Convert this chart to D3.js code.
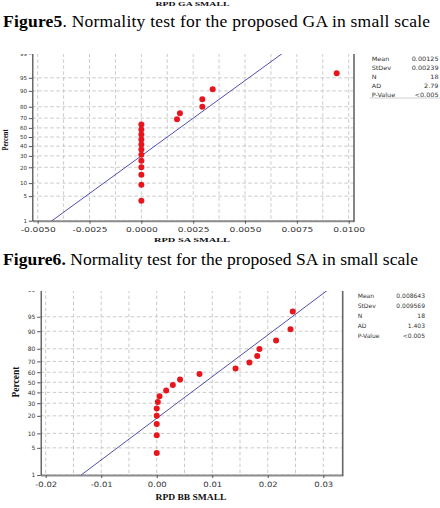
<!DOCTYPE html>
<html><head><meta charset="utf-8">
<script src="https://cdn.jsdelivr.net/npm/d3@7"></script>
<style>html,body{margin:0;padding:0;background:#fff}svg{display:block}</style>
</head><body>
<svg id="c" width="440" height="508"></svg>
<script>
// ---------- data ----------
const percentTicks = [1, 5, 10, 20, 30, 40, 50, 60, 70, 80, 90, 95, 99];
const plotPercents = [3.8, 9.2, 14.7, 20.1, 25.5, 31.0, 36.4, 41.8, 47.3, 52.7, 58.2, 63.6, 69.0, 74.5, 79.9, 85.3, 90.8, 96.2];

const saValues = [0, 0, 0, 0, 0, 0, 0, 0, 0, 0, 0, 0, 0.00172, 0.00186, 0.00294, 0.00294, 0.00344, 0.00942];
const bbValues = [0, 0, 0, 0, 0, 0.0002, 0.0005, 0.0017, 0.0029, 0.0042, 0.0077, 0.0142, 0.0167, 0.0181, 0.0185, 0.0215, 0.0241, 0.0245];

const saXTicks = [-0.005, -0.0025, 0, 0.0025, 0.005, 0.0075, 0.01];
const saXTickLabels = ["-0.0050", "-0.0025", "0.0000", "0.0025", "0.0050", "0.0075", "0.0100"];
const saGridX = [-0.005, -0.00375, -0.0025, -0.00125, 0, 0.00125, 0.0025, 0.00375, 0.005, 0.00625, 0.0075, 0.00875, 0.01];

const bbXTicks = [-0.02, -0.01, 0, 0.01, 0.02, 0.03];
const bbXTickLabels = ["-0.02", "-0.01", "0.00", "0.01", "0.02", "0.03"];
const bbGridX = [-0.02, -0.015, -0.01, -0.005, 0, 0.005, 0.01, 0.015, 0.02, 0.025, 0.03];

const statLabels = ["Mean", "StDev", "N", "AD", "P-Value"];
const saStats = ["0.00125", "0.00239", "18", "2.79", "<0.005"];
const bbStats = ["0.008643", "0.009569", "18", "1.403", "<0.005"];
const saMean = 0.00125, saSd = 0.00239;
const bbMean = 0.008643, bbSd = 0.009569;

const captions = [
  ["Figure5", ". Normality test for the proposed GA in small scale"],
  ["Figure6.", " Normality test for the proposed SA in small scale"]
];

// ---------- helpers ----------
function probit(p){
  const a=[-3.969683028665376e+01,2.209460984245205e+02,-2.759285104469687e+02,1.383577518672690e+02,-3.066479806614716e+01,2.506628277459239e+00];
  const b=[-5.447609879822406e+01,1.615858368580409e+02,-1.556989798598866e+02,6.680131188771972e+01,-1.328068155288572e+01];
  const c=[-7.784894002430293e-03,-3.223964580411365e-01,-2.400758277161838e+00,-2.549732539343734e+00,4.374664141464968e+00,2.938163982698783e+00];
  const d=[7.784695709041462e-03,3.224671290700398e-01,2.445134137142996e+00,3.754408661907416e+00];
  const pl=0.02425, ph=1-pl; let q,r;
  if(p<pl){q=Math.sqrt(-2*Math.log(p));return (((((c[0]*q+c[1])*q+c[2])*q+c[3])*q+c[4])*q+c[5])/((((d[0]*q+d[1])*q+d[2])*q+d[3])*q+1);}
  if(p<=ph){q=p-0.5;r=q*q;return (((((a[0]*r+a[1])*r+a[2])*r+a[3])*r+a[4])*r+a[5])*q/(((((b[0]*r+b[1])*r+b[2])*r+b[3])*r+b[4])*r+1);}
  q=Math.sqrt(-2*Math.log(1-p));return -(((((c[0]*q+c[1])*q+c[2])*q+c[3])*q+c[4])*q+c[5])/((((d[0]*q+d[1])*q+d[2])*q+d[3])*q+1);
}

const svg = d3.select("#c");
const SANS = "'DejaVu Sans', Verdana, sans-serif";
const SERIF = "'Liberation Serif', 'Times New Roman', serif";

function txt(g, x, y, s, o){
  const t = g.append("text")
    .attr("transform", `translate(${x},${y}) scale(${o.sx||1},1)` + (o.rot ? ` rotate(${o.rot})` : ""))
    .attr("text-anchor", o.anchor || "start")
    .attr("font-family", o.family || SANS)
    .attr("font-size", o.size)
    .attr("font-weight", o.weight || "normal")
    .attr("fill", o.fill || "#222")
    .text(s);
  return t;
}

function drawPlot(cfg, id){
  const root = svg.append("g");
  root.append("clipPath").attr("id", id).append("rect")
    .attr("x", 0).attr("y", cfg.clipTop).attr("width", 440).attr("height", 300);
  const g = root.append("g").attr("clip-path", `url(#${id})`);

  const x = d3.scaleLinear().domain(cfg.xDomain).range([cfg.left, cfg.right]);
  const z = d3.scaleLinear().domain([probit(0.01), probit(0.99)]).range([cfg.bottom, cfg.top]);
  const yP = p => z(probit(p / 100));

  // grid
  g.append("g").selectAll("line").data(cfg.gridX).join("line")
    .attr("x1", d => x(d)).attr("x2", d => x(d))
    .attr("y1", cfg.top).attr("y2", cfg.bottom)
    .attr("stroke", "#c4c4c4").attr("stroke-width", 0.9).attr("stroke-dasharray", "3.5,2.5");
  g.append("g").selectAll("line").data(percentTicks).join("line")
    .attr("x1", cfg.left).attr("x2", cfg.right)
    .attr("y1", d => yP(d)).attr("y2", d => yP(d))
    .attr("stroke", "#c4c4c4").attr("stroke-width", 0.9).attr("stroke-dasharray", "3.5,2.5");

  // axes
  const xa = g.append("g").attr("transform", `translate(0,${cfg.bottom})`)
    .call(d3.axisBottom(x).tickValues(cfg.xTicks).tickFormat((d, i) => cfg.xLabels[i])
      .tickSize(3).tickPadding(cfg.xPad).tickSizeOuter(0));
  xa.select(".domain").attr("stroke", "#8c8c8c").attr("stroke-width", 2);
  xa.selectAll(".tick line").attr("stroke", "#555");
  xa.selectAll(".tick text").attr("font-family", SANS).attr("font-size", cfg.xFont)
    .attr("fill", "#333").attr("transform", `scale(${cfg.xSx},1)`);

  const ya = g.append("g").attr("transform", `translate(${cfg.left},0)`)
    .call(d3.axisLeft(z).tickValues(percentTicks.map(p => probit(p / 100)))
      .tickFormat((d, i) => percentTicks[i]).tickSize(3.5).tickPadding(1.8).tickSizeOuter(0));
  ya.select(".domain").attr("stroke", "#444").attr("stroke-width", 1.2);
  ya.selectAll(".tick line").attr("stroke", "#555");
  ya.selectAll(".tick text").attr("font-family", SANS).attr("font-size", cfg.yFont).attr("fill", "#333");

  // right border
  g.append("line").attr("x1", cfg.right).attr("x2", cfg.right)
    .attr("y1", cfg.top).attr("y2", cfg.bottom + 1)
    .attr("stroke", "#666").attr("stroke-width", 1.6);

  // fitted line
  const fit = [0.01, 0.99].map(p => [cfg.mean + probit(p) * cfg.sd, p * 100]);
  g.append("path").datum(fit)
    .attr("d", d3.line().x(d => x(d[0])).y(d => yP(d[1])))
    .attr("stroke", "#3b3ba6").attr("stroke-width", 0.9).attr("fill", "none");

  // points
  g.append("g").selectAll("circle").data(cfg.values).join("circle")
    .attr("cx", d => x(d)).attr("cy", (d, i) => yP(plotPercents[i]))
    .attr("r", cfg.r).attr("fill", "#e8161c");

  // stats
  statLabels.forEach((s, i) => {
    txt(root, cfg.statX, cfg.statY0 + i * cfg.statDy, s, {size: cfg.statFont, sx: cfg.statSx, fill: "#333"});
    txt(root, cfg.statValX, cfg.statY0 + i * cfg.statDy, cfg.stats[i], {size: cfg.statFont, sx: cfg.statSx, anchor: "end", fill: "#333"});
  });
  if (cfg.statLine) {
    root.append("line").attr("x1", cfg.statX - 2).attr("x2", 440)
      .attr("y1", cfg.statLine).attr("y2", cfg.statLine)
      .attr("stroke", "#cfcfcf").attr("stroke-width", 1);
  }

  // titles
  txt(root, cfg.xTitleX, cfg.xTitleY, cfg.xTitle, {size: cfg.xTitleFont, sx: cfg.xTitleSx, anchor: "middle", weight: "bold", family: SERIF, fill: "#111"});
  txt(root, cfg.pctX, cfg.pctY, "Percent", {size: cfg.pctFont, sx: cfg.pctSx, rot: -90, anchor: "middle", weight: "bold", family: SERIF, fill: "#111"});
}

// ---------- top label and captions ----------
txt(svg, 192.5, 6, "RPD GA SMALL", {size: 7, sx: 1.4, anchor: "middle", weight: "bold", family: SERIF, fill: "#111"});

function caption(y, parts, len){
  const t = svg.append("text").attr("x", 3).attr("y", y)
    .attr("font-family", SERIF).attr("font-size", 17.5).attr("fill", "#000")
    .attr("textLength", len).attr("lengthAdjust", "spacing");
  t.append("tspan").attr("font-weight", "bold").text(parts[0]);
  t.append("tspan").text(parts[1]);
}
caption(26.7, captions[0], 427);
caption(265, captions[1], 415);

// ---------- plots ----------
drawPlot({
  values: saValues, mean: saMean, sd: saSd,
  xTicks: saXTicks, xLabels: saXTickLabels, gridX: saGridX,
  xDomain: [-0.00526, 0.010256], left: 32.3, right: 354, top: 53.3, bottom: 220.7, clipTop: 54,
  xPad: 3.3, xFont: 7, xSx: 1.3, yFont: 5.6, r: 3,
  stats: saStats, statX: 371.7, statValX: 438.5, statY0: 61.3, statDy: 8.85, statFont: 6, statSx: 1.08, statLine: 98,
  xTitle: "RPD SA SMALL", xTitleX: 192, xTitleY: 241.8, xTitleFont: 7, xTitleSx: 1.48,
  pctX: 8, pctY: 140, pctFont: 6.5, pctSx: 1.4
}, "clip1");

drawPlot({
  values: bbValues, mean: bbMean, sd: bbSd,
  xTicks: bbXTicks, xLabels: bbXTickLabels, gridX: bbGridX,
  xDomain: [-0.0209, 0.0335], left: 40.7, right: 342.7, top: 289.6, bottom: 475, clipTop: 291,
  xPad: 3.8, xFont: 7.3, xSx: 1.16, yFont: 6, r: 3,
  stats: bbStats, statX: 357.7, statValX: 425, statY0: 298, statDy: 9.93, statFont: 6, statSx: 1.0, statLine: null,
  xTitle: "RPD BB SMALL", xTitleX: 191, xTitleY: 499.5, xTitleFont: 8, xTitleSx: 1.19,
  pctX: 18.5, pctY: 382, pctFont: 9.5, pctSx: 1.1
}, "clip2");
</script>
</body></html>
